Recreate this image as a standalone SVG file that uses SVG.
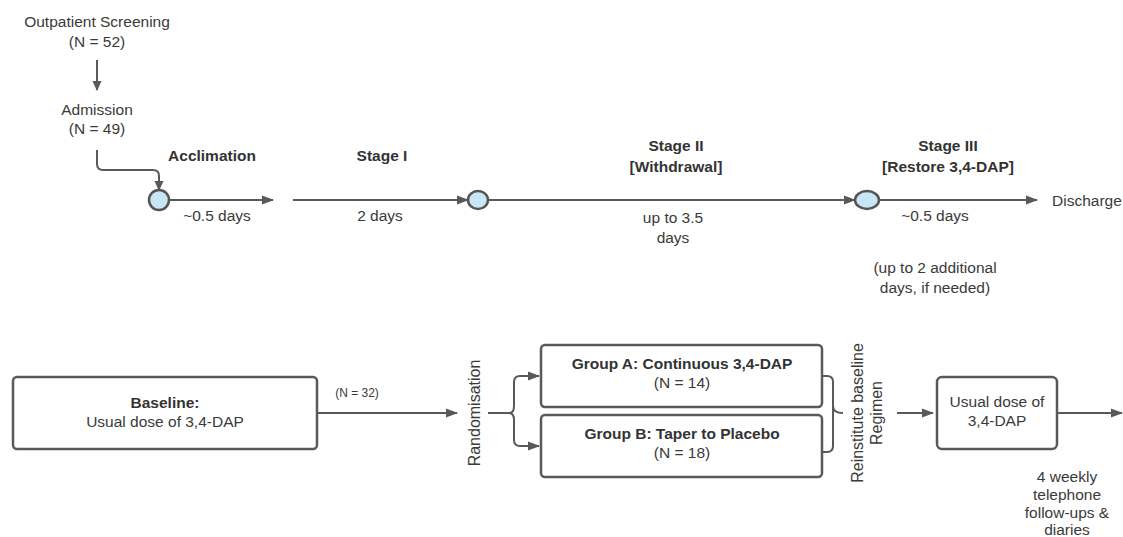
<svg xmlns="http://www.w3.org/2000/svg" width="1123" height="537" viewBox="0 0 1123 537">
<style>
text{font-family:"Liberation Sans",Arial,sans-serif;fill:#3a3a3a;font-size:15.5px;text-anchor:middle}
.b{font-weight:bold;fill:#333}
.s{font-size:12px}
.m{font-size:16px}
.ln{fill:none;stroke:#595959;stroke-width:2}
.node{fill:#c9e6f7;stroke:#555;stroke-width:2.5}
.box{fill:#fff;stroke:#595959;stroke-width:2.5}
</style>
<defs>
<marker id="ah" viewBox="0 0 10 10" refX="9" refY="5" markerWidth="10" markerHeight="10" markerUnits="userSpaceOnUse" orient="auto">
<path d="M0,0.5 L10,5 L0,9.5 z" fill="#595959"/>
</marker>
<marker id="ahl" viewBox="0 0 12 10" refX="11" refY="5" markerWidth="12" markerHeight="10" markerUnits="userSpaceOnUse" orient="auto">
<path d="M0,0.5 L12,5 L0,9.5 z" fill="#595959"/>
</marker>
</defs>
<rect width="1123" height="537" fill="#fff"/>

<g id="connectors">
<path class="ln" d="M97,60 V90" marker-end="url(#ah)"/>
<path class="ln" d="M97,150 V164 Q97,170 103,170 H153 Q159,170 159,176 V190" marker-end="url(#ah)"/>
<path class="ln" d="M169,200 H273" marker-end="url(#ahl)"/>
<path class="ln" d="M293,200 H468" marker-end="url(#ahl)"/>
<path class="ln" d="M488,200 H855" marker-end="url(#ahl)"/>
<path class="ln" d="M879,200 H1037" marker-end="url(#ahl)"/>
<path class="ln" d="M317,413 H457" marker-end="url(#ahl)"/>
<path class="ln" d="M488,413 H509 Q514,413 514,406 V382 Q514,376 520,376 H539" marker-end="url(#ahl)"/>
<path class="ln" d="M509,413 Q514,413 514,420 V440 Q514,446 520,446 H539" marker-end="url(#ahl)"/>
<path class="ln" d="M823,376 H827 Q833,376 833,382 V406 Q833,413 843,413 M833,406 V446 Q833,452 827,452 H823"/>
<path class="ln" d="M897,413 H933" marker-end="url(#ahl)"/>
<path class="ln" d="M1057,413 H1122" marker-end="url(#ahl)"/>
</g>

<g id="screening">
<text x="97" y="27">Outpatient Screening</text>
<text x="97" y="47">(N = 52)</text>
</g>
<g id="admission">
<text x="97" y="115">Admission</text>
<text x="97" y="134">(N = 49)</text>
</g>

<g id="node-acclimation">
<circle class="node" cx="159" cy="200" r="10"/>
<text class="b" x="212" y="161">Acclimation</text>
<text x="217" y="221">~0.5 days</text>
</g>
<g id="stage1">
<text class="b" x="382" y="161">Stage I</text>
<text x="380" y="221">2 days</text>
</g>
<g id="node-stage2">
<ellipse class="node" cx="478" cy="200" rx="10" ry="9"/>
<text class="b" x="676" y="151">Stage II</text>
<text class="b" x="676" y="172">[Withdrawal]</text>
<text x="673" y="223">up to 3.5</text>
<text x="673" y="243">days</text>
</g>
<g id="node-stage3">
<ellipse class="node" cx="867" cy="200" rx="12" ry="9"/>
<text class="b" x="948" y="151">Stage III</text>
<text class="b" x="948" y="172">[Restore 3,4-DAP]</text>
<text x="935" y="221">~0.5 days</text>
<text x="935" y="273">(up to 2 additional</text>
<text x="935" y="293">days, if needed)</text>
</g>
<g id="discharge">
<text x="1052" y="206" style="text-anchor:start">Discharge</text>
</g>

<g id="baseline">
<rect class="box" x="13" y="377" width="304" height="72" rx="4"/>
<text class="b" x="165" y="408">Baseline:</text>
<text x="165" y="427">Usual dose of 3,4-DAP</text>
<text class="s" x="357" y="397">(N = 32)</text>
</g>
<g id="randomisation">
<text class="m" transform="translate(480,413) rotate(-90)">Randomisation</text>
</g>
<g id="groupA">
<rect class="box" x="541" y="345" width="281" height="62" rx="4"/>
<text class="b" x="682" y="369">Group A: Continuous 3,4-DAP</text>
<text x="682" y="388">(N = 14)</text>
</g>
<g id="groupB">
<rect class="box" x="541" y="415" width="281" height="62" rx="4"/>
<text class="b" x="682" y="439">Group B: Taper to Placebo</text>
<text x="682" y="458">(N = 18)</text>
</g>
<g id="reinstitute">
<text class="m" transform="translate(863,413) rotate(-90)">Reinstitute baseline</text>
<text class="m" transform="translate(882,413) rotate(-90)">Regimen</text>
</g>
<g id="usual">
<rect class="box" x="937" y="377" width="120" height="72" rx="5"/>
<text x="997" y="407">Usual dose of</text>
<text x="997" y="426">3,4-DAP</text>
<text x="1067" y="482">4 weekly</text>
<text x="1067" y="500">telephone</text>
<text x="1067" y="518">follow-ups &amp;</text>
<text x="1067" y="535">diaries</text>
</g>
</svg>
